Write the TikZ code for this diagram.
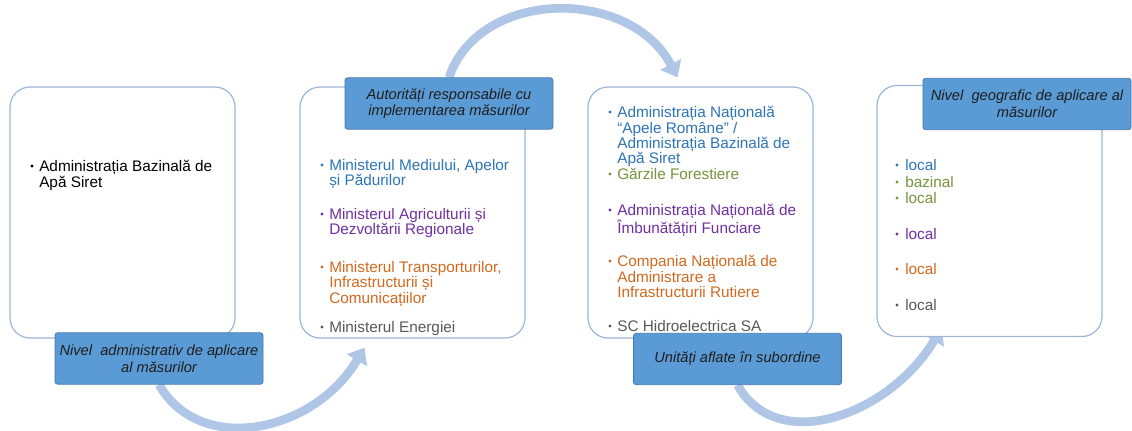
\documentclass[tikz,border=0pt]{standalone}
\usepackage{fontspec}
\setmainfont{Liberation Sans}
\usetikzlibrary{arrows.meta,calc}
\definecolor{tblue}{HTML}{2E75B6}
\definecolor{tgreen}{HTML}{77933C}
\definecolor{tpurple}{HTML}{7030A0}
\definecolor{torange}{HTML}{D2691E}
\definecolor{tgray}{HTML}{595959}
\definecolor{boxline}{HTML}{9DB5D6}
\definecolor{arrowc}{HTML}{AFC6E6}
\definecolor{labfill}{HTML}{5B9BD5}
\definecolor{labline}{HTML}{4677AE}
\definecolor{labtext}{HTML}{1E1E1E}
\pgfdeclarelayer{bg}
\pgfsetlayers{bg,main}
\tikzset{
  panel/.style={draw=boxline, line width=0.9pt, fill=white, rounded corners=15pt,
    minimum width=168.75pt, minimum height=188.25pt, inner sep=0pt},
  lab/.style={draw=labline, line width=0.6pt, fill=labfill, rounded corners=2pt,
    minimum width=156pt, minimum height=38.5pt, inner sep=1pt, align=center,
    text=labtext, font=\fontsize{11}{12.5}\selectfont\itshape},
  itemtext/.style={anchor=north west, inner sep=0pt, align=left,
    font=\fontsize{11.5}{11.6}\selectfont, execute at begin node=\strut},
  bul/.style={circle, inner sep=0pt, minimum size=2.5pt},
  flow/.style={draw=arrowc, line width=6.5pt,
    -{Triangle[length=11pt,width=17pt]}}
}
\begin{document}
\begin{tikzpicture}[x=0.75pt,y=-0.75pt]
\useasboundingbox (0,0) rectangle (1132,430);

% panels
\node[panel] (b1) at (122.5,212.5) {};
\node[panel] (b2) at (412.5,212.5) {};
\node[panel] (b3) at (700.5,212.5) {};
\node[panel] (b4) at (989.5,211) {};

% labels
\node[lab] (l1) at (159,358.5) {Nivel\ \ administrativ de aplicare\\al măsurilor};
\node[lab] (l2) at (449,103.5) {Autorități responsabile cu\\implementarea măsurilor};
\node[lab] (l3) at (737.5,359) {Unități aflate în subordine};
\node[lab] (l4) at (1027,104) {Nivel\ \ geografic de aplicare al\\măsurilor};

% arrows
\begin{pgfonlayer}{bg}
\draw[flow] (l1.south) .. controls +(41,72) and +(-50,85) .. ($(b2.south west)+(65,9)$);
\draw[flow] (l2.north) .. controls +(31,-90) and +(-47,-90) .. ($(b3.north)+(-23,-9)$);
\draw[flow] (l3.south) .. controls +(41,72) and +(-50,85) .. ($(b4.south west)+(65,-9)$);
\end{pgfonlayer}

% box 1
\node[bul, fill=black] (d11) at (32,166) {};
\node[itemtext, text=black] (t11) at (39,160) {Administrația Bazinală de\\Apă Siret};

% box 2
\node[bul, fill=tblue] (d21) at (322,165) {};
\node[itemtext, text=tblue] (t21) at (329,159) {Ministerul Mediului, Apelor\\și Pădurilor};
\node[bul, fill=tpurple] (d22) at (322,214) {};
\node[itemtext, text=tpurple] (t22) at (329,208) {Ministerul Agriculturii și\\Dezvoltării Regionale};
\node[bul, fill=torange] (d23) at (322,267) {};
\node[itemtext, text=torange] (t23) at (329,261) {Ministerul Transporturilor,\\Infrastructurii și\\Comunicațiilor};
\node[bul, fill=tgray] (d24) at (322,327) {};
\node[itemtext, text=tgray] (t24) at (329,321) {Ministerul Energiei};

% box 3
\node[bul, fill=tblue] (d31) at (610,112) {};
\node[itemtext, text=tblue] (t31) at (617,106) {Administrația Națională\\“Apele Române” /\\Administrația Bazinală de\\Apă Siret};
\node[bul, fill=tgreen] (d32) at (610,174) {};
\node[itemtext, text=tgreen] (t32) at (617,168) {Gărzile Forestiere};
\node[bul, fill=tpurple] (d33) at (610,210) {};
\node[itemtext, text=tpurple] (t33) at (617,204) {Administrația Națională de\\Îmbunătățiri Funciare};
\node[bul, fill=torange] (d34) at (610,261) {};
\node[itemtext, text=torange] (t34) at (617,255) {Compania Națională de\\Administrare a\\Infrastructurii Rutiere};
\node[bul, fill=tgray] (d35) at (610,326) {};
\node[itemtext, text=tgray] (t35) at (617,320) {SC Hidroelectrica SA};

% box 4
\node[bul, fill=tblue] (d41) at (897,165) {};
\node[itemtext, text=tblue] (t41) at (905,159) {local};
\node[bul, fill=tgreen] (d42) at (897,182) {};
\node[itemtext, text=tgreen] (t42) at (905,176) {bazinal};
\node[bul, fill=tgreen] (d43) at (897,198) {};
\node[itemtext, text=tgreen] (t43) at (905,192) {local};
\node[bul, fill=tpurple] (d44) at (897,234) {};
\node[itemtext, text=tpurple] (t44) at (905,228) {local};
\node[bul, fill=torange] (d45) at (897,269) {};
\node[itemtext, text=torange] (t45) at (905,263) {local};
\node[bul, fill=tgray] (d46) at (897,305) {};
\node[itemtext, text=tgray] (t46) at (905,299) {local};
\end{tikzpicture}
\end{document}
